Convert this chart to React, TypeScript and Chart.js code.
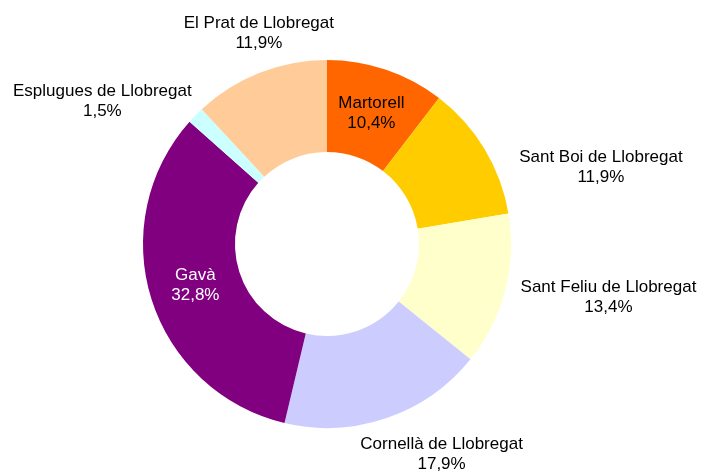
import React, { useEffect, useRef } from "react";
import { Chart, registerables } from "chart.js";

Chart.register(...registerables);

const municipalities = [
  "Martorell",
  "Sant Boi de Llobregat",
  "Sant Feliu de Llobregat",
  "Cornellà de Llobregat",
  "Gavà",
  "Esplugues de Llobregat",
  "El Prat de Llobregat",
];
const shares = [10.4, 11.9, 13.4, 17.9, 32.8, 1.5, 11.9];
const sliceColors = ["#FF6600", "#FFCC00", "#FFFFCC", "#CCCCFF", "#800080", "#CCFFFF", "#FFCC99"];
const labelInside = [true, false, false, false, true, false, false];
const labelColors = ["#000000", "#000000", "#000000", "#000000", "#FFFFFF", "#000000", "#000000"];
// manual label nudges (like hand-placed Excel data labels), in px
const labelNudge: [number, number][] = [
  [0, 0],
  [29, 39],
  [-1, -3],
  [22, -2],
  [0, 0],
  [-15, 14],
  [34, -2],
];

const FONT = "17px 'Liberation Sans', Arial, sans-serif";
const LINE_H = 20;

const fmt = (v: number) => v.toFixed(1).replace(".", ",") + "%";

const labelPlugin = {
  id: "sliceLabels",
  afterDatasetsDraw(chart: any) {
    const ctx = chart.ctx as CanvasRenderingContext2D;
    const meta = chart.getDatasetMeta(0);
    ctx.save();
    ctx.font = FONT;
    ctx.textAlign = "center";
    ctx.textBaseline = "middle";
    meta.data.forEach((arc: any, i: number) => {
      const p = arc.getProps(["x", "y", "startAngle", "endAngle", "innerRadius", "outerRadius"], true);
      const mid = (p.startAngle + p.endAngle) / 2;
      const dx = Math.cos(mid);
      const dy = Math.sin(mid);
      const l1 = municipalities[i];
      const l2 = fmt(shares[i]);
      let cx: number, cy: number;
      if (labelInside[i]) {
        const r = (p.innerRadius + p.outerRadius) / 2;
        cx = p.x + dx * r;
        cy = p.y + dy * r;
      } else {
        const w = Math.max(ctx.measureText(l1).width, ctx.measureText(l2).width);
        const h = LINE_H * 2;
        const r = p.outerRadius + 20;
        cx = p.x + dx * r + (dx * w) / 2 + labelNudge[i][0];
        cy = p.y + dy * r + (dy * h) / 2 + labelNudge[i][1];
      }
      ctx.fillStyle = labelColors[i];
      ctx.fillText(l1, cx, cy - LINE_H / 2);
      ctx.fillText(l2, cx, cy + LINE_H / 2);
    });
    ctx.restore();
  },
};

export default function App() {
  const ref = useRef<HTMLCanvasElement>(null);
  useEffect(() => {
    if (!ref.current) return;
    const chart = new Chart(ref.current, {
      type: "doughnut",
      data: {
        labels: municipalities,
        datasets: [
          {
            data: shares,
            backgroundColor: sliceColors,
            borderWidth: 0,
            hoverOffset: 0,
          },
        ],
      },
      options: {
        responsive: false,
        animation: false,
        cutout: "50%",
        layout: { padding: { left: 143, right: 191, top: 60, bottom: 43 } },
        plugins: {
          legend: { display: false },
          tooltip: { enabled: false },
        },
        events: [],
      },
      plugins: [labelPlugin],
    });
    return () => chart.destroy();
  }, []);
  return (
    <div style={{ position: "absolute", left: 0, top: 0, width: 702, height: 471, background: "#FFFFFF" }}>
      <canvas ref={ref} width={702} height={471} style={{ display: "block" }} />
    </div>
  );
}
